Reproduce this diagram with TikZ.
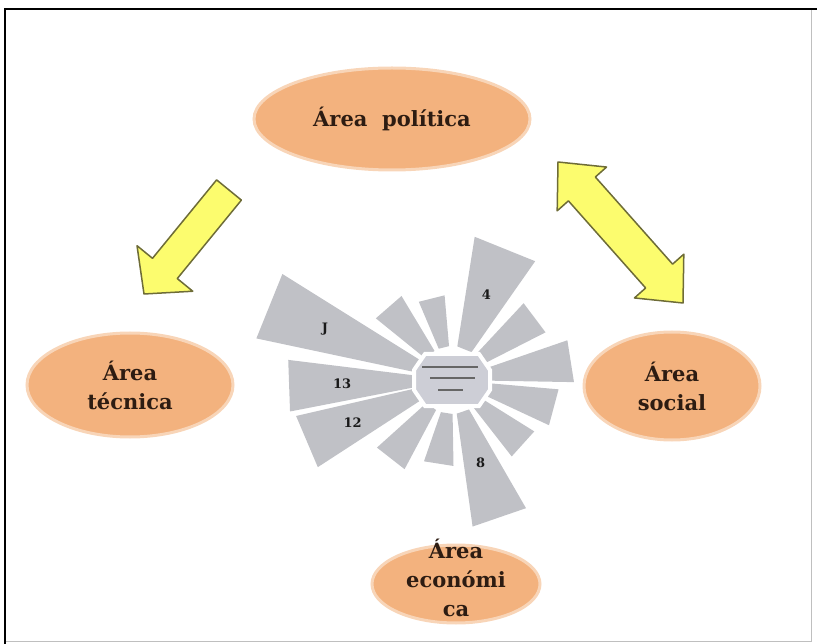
\documentclass[tikz,border=0pt]{standalone}
\usepackage{fontspec}
\setmainfont{DejaVu Serif}
\usetikzlibrary{shapes.geometric,calc}

\definecolor{areaorange}{RGB}{243,178,126}
\definecolor{areatext}{RGB}{45,28,18}
\definecolor{arrowfill}{RGB}{252,252,110}
\definecolor{arrowline}{RGB}{110,108,55}
\definecolor{petalgray}{RGB}{192,193,198}
\definecolor{coregray}{RGB}{205,206,214}

% block arrow, tail #1, tip #2
\newcommand{\onearrow}[2]{%
  \coordinate (#2base) at ($(#2)!33pt!(#1)$);
  \draw[bigarrow] ($(#1)!16pt!90:(#2)$) -- ($(#2base)!16pt!90:(#2)$) -- ($(#2base)!36pt!90:(#2)$) -- (#2)
    -- ($(#2base)!36pt!-90:(#2)$) -- ($(#2base)!16pt!-90:(#2)$) -- ($(#1)!16pt!-90:(#2)$) -- cycle;}
% block arrow with two heads
\newcommand{\twoarrow}[2]{%
  \coordinate (#1base) at ($(#1)!36pt!(#2)$);
  \coordinate (#2base) at ($(#2)!36pt!(#1)$);
  \draw[bigarrow] (#1) -- ($(#1base)!33pt!90:(#2)$) -- ($(#1base)!18pt!90:(#2)$) -- ($(#2base)!18pt!90:(#2)$)
    -- ($(#2base)!33pt!90:(#2)$) -- (#2) -- ($(#2base)!33pt!-90:(#2)$) -- ($(#2base)!18pt!-90:(#2)$)
    -- ($(#1base)!18pt!-90:(#2)$) -- ($(#1base)!33pt!-90:(#2)$) -- cycle;}

\begin{document}
\begin{tikzpicture}[x=1pt,y=-1pt]

\tikzstyle{area}=[ellipse,fill=areaorange,draw=areaorange!55,line width=3pt,inner sep=0pt]
\tikzstyle{areatxt}=[text=areatext,font=\fontsize{21}{29}\selectfont\bfseries,align=center]
\tikzstyle{bigarrow}=[fill=arrowfill,draw=arrowline,line width=1.5pt,line join=round]
\tikzstyle{petal}=[fill=petalgray]
\tikzstyle{count}=[font=\fontsize{13}{13}\selectfont\bfseries,text=black!90]

\useasboundingbox (0,0) rectangle (817,644);
\draw[black!25] (5,9) rectangle (811,641);
\draw[line width=2.5pt] (5,644) -- (5,9) -- (817,9);

\node[area,areatxt,minimum width=276pt,minimum height=102pt] (pol) at (392,119) {Área\ \ política};
\node[area,areatxt,minimum width=206pt,minimum height=104pt] (tec) at (130,385) {Área\\técnica};
\node[area,areatxt,minimum width=176pt,minimum height=108pt] (soc) at (672,386) {Área\\social};
\node[area,minimum width=168pt,minimum height=78pt] (eco) at (456,584) {};
\node[areatxt] (ecotxt) at (456,578) {Área\\económi\\ca};

\coordinate (t1) at (229,190);
\coordinate (h1) at (144,294);
\onearrow{t1}{h1}
\coordinate (d1) at (558,162);
\coordinate (d2) at (683,303);
\twoarrow{d1}{d2}

\begin{scope}[shift={(452,380)},yscale=-1]
\foreach \a/\r/\w in {68/145/13,37/105/10,9/122/10,-15/107/10,-42/97/10,-71/148/11,-99/86/10,-128/101/10,-157/160/10,-178/165/9,158/200/10,131/98/10,104/85/9}
  \fill[petal] (\a-\w:34) -- (\a-\w:\r) -- (\a+\w:\r) -- (\a+\w:34) -- cycle;
\filldraw[fill=coregray,draw=white,line width=4pt] (-38,10) -- (-27,26) -- (27,26) -- (38,10) -- (38,-10) -- (27,-26) -- (-27,-26) -- (-38,-10) -- cycle;
\coordinate (core) at (0,0);
\draw[black!60,line width=2.5pt] (-30,13) -- (26,13) (-22,2) -- (23,2) (-14,-10) -- (11,-10);
\node[count] (n4) at (68:92) {4};
\node[count] (n8) at (-71:88) {8};
\node[count] (n12) at (-157:108) {12};
\node[count] (n13) at (-178:110) {13};
\node[count] (nj) at (158:137) {J};
\end{scope}

\end{tikzpicture}
\end{document}
